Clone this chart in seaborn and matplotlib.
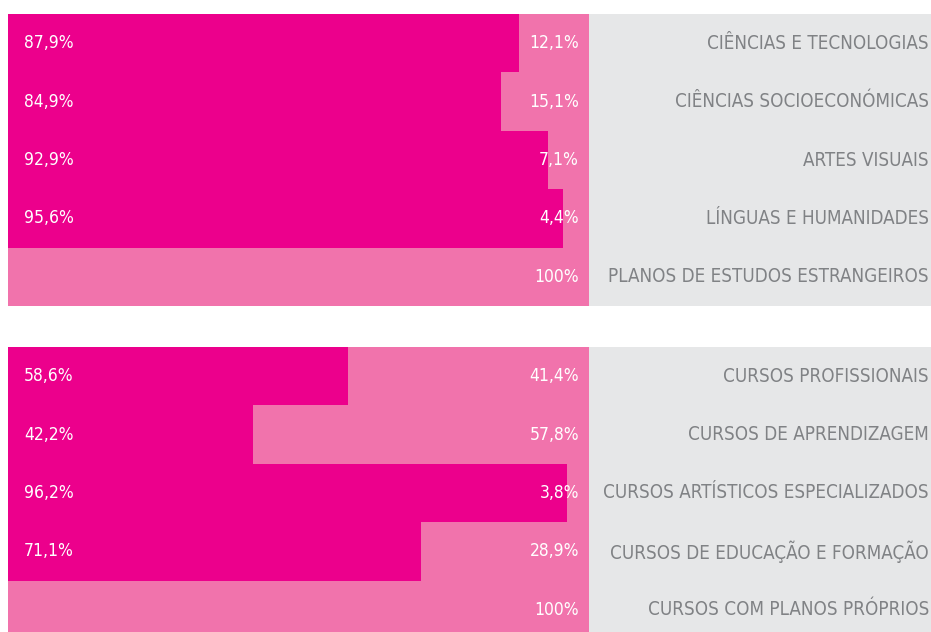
import matplotlib
matplotlib.use("Agg")
import matplotlib.pyplot as plt
import seaborn as sns
import pandas as pd
from matplotlib import font_manager

top_categories = ["CIÊNCIAS E TECNOLOGIAS", "CIÊNCIAS SOCIOECONÓMICAS", "ARTES VISUAIS",
                  "LÍNGUAS E HUMANIDADES", "PLANOS DE ESTUDOS ESTRANGEIROS"]
top_dark = [87.9, 84.9, 92.9, 95.6, 0.0]
top_light = [12.1, 15.1, 7.1, 4.4, 100.0]

bottom_categories = ["CURSOS PROFISSIONAIS", "CURSOS DE APRENDIZAGEM", "CURSOS ARTÍSTICOS ESPECIALIZADOS",
                     "CURSOS DE EDUCAÇÃO E FORMAÇÃO", "CURSOS COM PLANOS PRÓPRIOS"]
bottom_dark = [58.6, 42.2, 96.2, 71.1, 0.0]
bottom_light = [41.4, 57.8, 3.8, 28.9, 100.0]

DARK = "#EC008C"
LIGHT = "#F173AC"
PANEL = "#E6E7E8"
TEXT_GRAY = "#808285"

sns.set_theme(style="white")
fonts = font_manager.fontManager.ttflist
condensed = [f for f in fonts if f.name == "DejaVu Sans" and f.stretch in ("condensed", "semi-condensed", 87.5, 75)]
names = {f.name for f in fonts}
if "DejaVu Sans Condensed" in names:
    fam, stretch, fs_cat, fs_pct = "DejaVu Sans Condensed", "normal", 13.5, 12.5
elif condensed:
    fam, stretch, fs_cat, fs_pct = "DejaVu Sans", "condensed", 13.5, 12.5
else:
    fam, stretch, fs_cat, fs_pct = "DejaVu Sans", "normal", 12.2, 11.2
plt.rcParams["font.family"] = [fam, "DejaVu Sans"]
plt.rcParams["font.stretch"] = stretch

W, H = 931, 632
fig = plt.figure(figsize=(W / 100, H / 100), dpi=100)

x0, xbar = 8, 589
scale = (xbar - x0) / 100.0
xmax = (W - x0) / scale
row_h = 58.4


def fmt(v):
    if v >= 100:
        return "100%"
    return f"{v:.1f}".replace(".", ",") + "%"


def draw(top_px, bottom_px, cats, dark, light):
    ax = fig.add_axes([x0 / W, 1 - bottom_px / H, (W - x0) / W, (bottom_px - top_px) / H])
    df = pd.DataFrame({"cat": cats, "dark": dark,
                       "total": [d + l for d, l in zip(dark, light)]})
    ax.axvspan(100, xmax, color=PANEL, zorder=0, lw=0)
    sns.barplot(data=df, y="cat", x="total", color=LIGHT, width=1.0, ax=ax,
                saturation=1, orient="h", zorder=2, linewidth=0)
    sns.barplot(data=df, y="cat", x="dark", color=DARK, width=1.0, ax=ax,
                saturation=1, orient="h", zorder=3, linewidth=0)
    nrows_visible = (bottom_px - top_px) / row_h
    ax.set_ylim(-0.5 + nrows_visible, -0.5)
    ax.set_xlim(0, xmax)
    for i, (c, d, l) in enumerate(zip(cats, dark, light)):
        if d > 0:
            ax.text((24 - x0) / scale, i, fmt(d), color="white", va="center",
                    ha="left", fontsize=fs_pct, zorder=5)
        ax.text((579 - x0) / scale, i, fmt(l), color="white", va="center",
                ha="right", fontsize=fs_pct, zorder=5)
        ax.text((929 - x0) / scale, i, c, color=TEXT_GRAY, va="center",
                ha="right", fontsize=fs_cat, zorder=5)
    ax.set_axis_off()
    return ax


draw(14, 306, top_categories, top_dark, top_light)
draw(347, 632, bottom_categories, bottom_dark, bottom_light)

fig.savefig("out.png", dpi=100, facecolor="white")
